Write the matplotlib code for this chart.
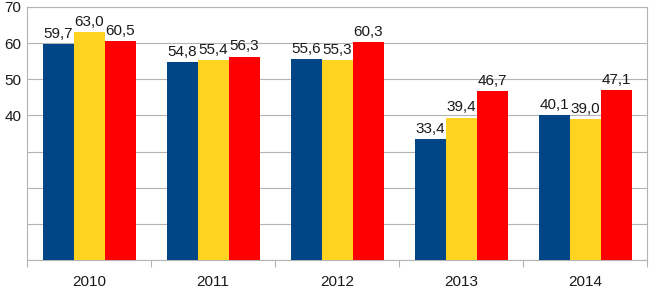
import matplotlib.pyplot as plt
import numpy as np

plt.rcParams['font.family'] = ['Liberation Sans', 'DejaVu Sans']

years = ["2010", "2011", "2012", "2013", "2014"]
blue_vals = [59.7, 54.8, 55.6, 33.4, 40.1]
yellow_vals = [63.0, 55.4, 55.3, 39.4, 39.0]
red_vals = [60.5, 56.3, 60.3, 46.7, 47.1]

colors = ["#004586", "#ffd320", "#ff0000"]
grid_color = "#b3b3b3"

fig = plt.figure(figsize=(6.52, 2.89), dpi=100)
ax = fig.add_axes([27 / 652, 29 / 289, 620 / 652, 253 / 289])

x = np.arange(len(years))
w = 0.25
for i, (vals, c) in enumerate(zip([blue_vals, yellow_vals, red_vals], colors)):
    pos = x + (i - 1) * w
    ax.bar(pos, vals, width=w, color=c, zorder=3)
    for px, v in zip(pos, vals):
        ax.text(px, v + 0.9, f"{v:.1f}".replace(".", ","), ha="center",
                va="bottom", fontsize=11, color="#1a1a1a", zorder=4)

ax.set_xlim(-0.5, len(years) - 0.5)
ax.set_ylim(0, 70)

ax.set_yticks(np.arange(0, 71, 10))
ax.set_yticklabels(["" if t < 40 else str(t) for t in range(0, 71, 10)],
                   fontsize=11, color="#1a1a1a")
ax.tick_params(axis="y", length=0, pad=4)
ax.yaxis.grid(True, color=grid_color, linewidth=0.8, zorder=0)

ax.set_xticks(x)
ax.set_xticklabels(years, fontsize=11, color="#1a1a1a")
ax.set_xticks(np.arange(-0.5, len(years)), minor=True)
ax.tick_params(axis="x", which="major", length=0, pad=11)
ax.tick_params(axis="x", which="minor", length=5, color=grid_color, width=0.8)

for s in ax.spines.values():
    s.set_color(grid_color)
    s.set_linewidth(0.8)

fig.savefig("out.png", dpi=100)
